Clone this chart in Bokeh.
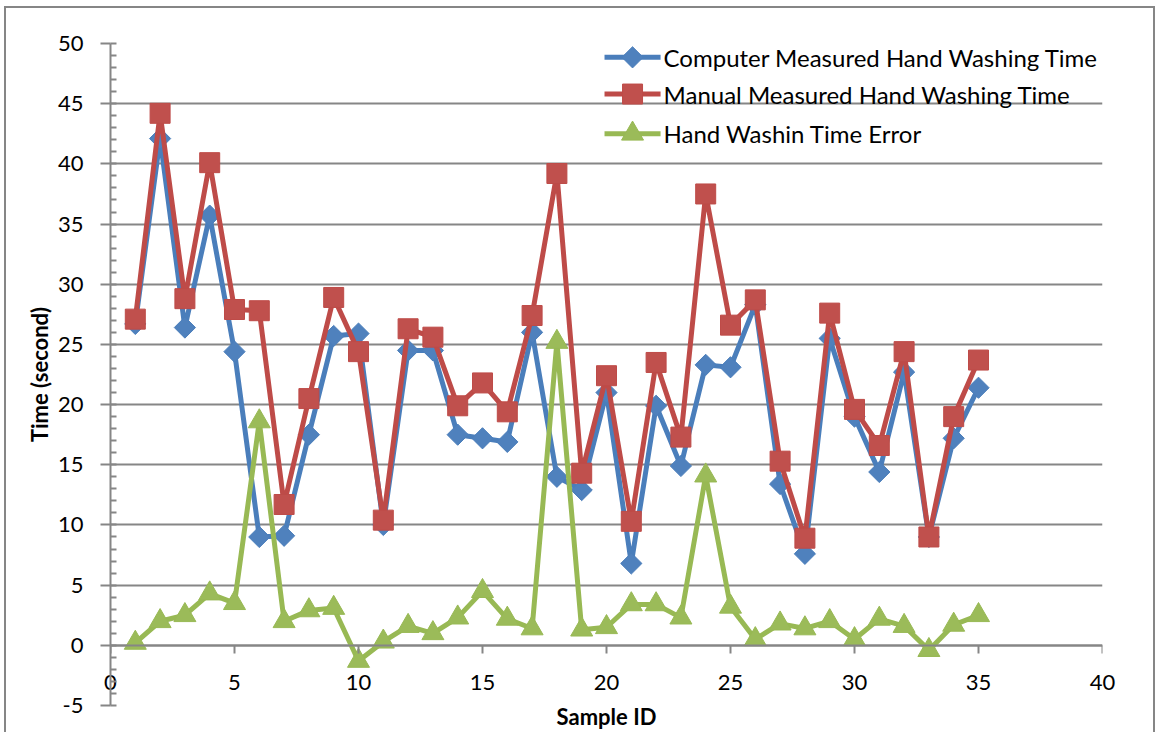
import numpy as np
from bokeh.plotting import figure
from bokeh.layouts import column
from bokeh.models import (Range1d, SingleIntervalTicker, LinearAxis, Label,
                          ColumnDataSource, CustomJSTickFormatter)
from bokeh.embed import file_html
from bokeh.resources import INLINE

# ---- data ----
sample_id = list(range(1, 36))
computer_time = [26.7, 42.1, 26.4, 35.7, 24.4, 9.0, 9.1, 17.5, 25.7, 25.9,
                 10.0, 24.5, 24.5, 17.5, 17.2, 16.9, 26.0, 14.0, 12.9, 21.0,
                 6.8, 19.9, 14.9, 23.3, 23.1, 28.3, 13.4, 7.6, 25.5, 19.0,
                 14.4, 22.7, 9.0, 17.2, 21.4]
manual_time = [27.1, 44.2, 28.8, 40.1, 27.9, 27.8, 11.7, 20.5, 28.9, 24.4,
               10.4, 26.3, 25.6, 19.9, 21.8, 19.4, 27.4, 39.2, 14.3, 22.4,
               10.3, 23.5, 17.3, 37.5, 26.6, 28.7, 15.3, 8.9, 27.6, 19.6,
               16.6, 24.4, 9.0, 19.0, 23.7]
error_time = [0.2, 2.0, 2.5, 4.3, 3.5, 18.6, 2.0, 2.9, 3.1, -1.3,
              0.3, 1.6, 1.0, 2.3, 4.5, 2.2, 1.4, 25.2, 1.3, 1.5,
              3.4, 3.4, 2.3, 14.1, 3.2, 0.5, 1.8, 1.4, 2.0, 0.5,
              2.2, 1.6, -0.4, 1.7, 2.5]
series_names = ["Computer Measured Hand Washing Time",
                "Manual Measured Hand Washing Time",
                "Hand Washin Time Error"]
x_title = "Sample ID"
y_title = "Time (second)"

FONT = "Lato"
GRID = "#868686"
BLUE_L, BLUE_F = "#4A7EBB", "#4F81BD"
RED_L, RED_F = "#BE4B48", "#C0504D"
GREEN_L, GREEN_F = "#98B954", "#9BBB59"

W, H = 1147, 724
p = figure(width=W, height=H, output_backend="svg", toolbar_location=None,
           x_range=Range1d(0, 40), y_range=Range1d(-5, 50),
           x_axis_location=None,
           min_border_left=104, min_border_right=51,
           min_border_top=35, min_border_bottom=27)
p.outline_line_color = None
p.background_fill_color = "white"
p.border_fill_color = "white"

# y axis
yax = p.yaxis[0]
yax.ticker = SingleIntervalTicker(interval=5, num_minor_ticks=5)
yax.formatter = CustomJSTickFormatter(code="return tick.toFixed(0)")
yax.axis_line_color = GRID
yax.axis_line_width = 2
yax.major_tick_line_color = GRID
yax.major_tick_line_width = 2
yax.minor_tick_line_color = GRID
yax.minor_tick_line_width = 2
yax.major_tick_out = 10
yax.major_tick_in = 0
yax.minor_tick_in = 6
yax.minor_tick_out = 0
yax.major_label_text_font = FONT
yax.major_label_text_font_size = "22px"
yax.major_label_text_color = "black"
yax.major_label_standoff = 17
yax.axis_label = y_title
yax.axis_label_text_font = FONT
yax.axis_label_text_font_style = "bold"
yax.axis_label_text_font_size = "22px"
yax.axis_label_text_color = "black"
yax.axis_label_standoff = 2

# x axis line + ticks crossing at y = 0
xax = LinearAxis(fixed_location=0,
                 ticker=SingleIntervalTicker(interval=5, num_minor_ticks=0),
                 formatter=CustomJSTickFormatter(code="return ''"))
xax.axis_line_color = GRID
xax.axis_line_width = 2
xax.major_tick_line_color = GRID
xax.major_tick_line_width = 2
xax.major_tick_out = 8
xax.major_tick_in = 0
xax.minor_tick_line_color = None
p.add_layout(xax, "below")

# x tick labels and title (tick labels sit just above the frame bottom, like the original)
xlab = LinearAxis(ticker=SingleIntervalTicker(interval=5, num_minor_ticks=0))
xlab.axis_line_color = None
xlab.major_tick_line_color = None
xlab.minor_tick_line_color = None
xlab.major_tick_out = 0
xlab.major_tick_in = 0
xlab.major_label_text_font = FONT
xlab.major_label_text_font_size = "22px"
xlab.major_label_text_color = "black"
xlab.major_label_standoff = -31
xlab.axis_label = x_title
xlab.axis_label_text_font = FONT
xlab.axis_label_text_font_style = "bold"
xlab.axis_label_text_font_size = "22px"
xlab.axis_label_text_color = "black"
xlab.axis_label_standoff = 10
p.add_layout(xlab, "below")

p.xgrid.visible = False
p.ygrid.ticker = SingleIntervalTicker(interval=5)
p.ygrid.grid_line_color = GRID
p.ygrid.grid_line_width = 2

src = ColumnDataSource(dict(x=sample_id, c=computer_time, m=manual_time, e=error_time))

LW = 5
p.line("x", "c", source=src, line_color=BLUE_L, line_width=LW)
p.scatter("x", "c", source=src, marker="square", angle=np.pi / 4, size=15,
          fill_color=BLUE_F, line_color=BLUE_L, line_width=1)
p.line("x", "m", source=src, line_color=RED_L, line_width=LW)
p.scatter("x", "m", source=src, marker="square", size=20,
          fill_color=RED_F, line_color=RED_L, line_width=1)
p.line("x", "e", source=src, line_color=GREEN_L, line_width=LW)
p.scatter("x", "e", source=src, marker="triangle", size=22,
          fill_color=GREEN_F, line_color=GREEN_L, line_width=1)

# ---- legend (top right) ----
leg_rows = [48.85, 45.8, 42.5]          # row positions in axis units
leg_x0, leg_x1, leg_txt = 19.92, 22.18, 22.3
leg_styles = [(BLUE_L, BLUE_F, "square", np.pi / 4, 15),
              (RED_L, RED_F, "square", 0.0, 20),
              (GREEN_L, GREEN_F, "triangle", 0.0, 22)]
for name, yy, (lc, fc, mk, ang, sz) in zip(series_names, leg_rows, leg_styles):
    p.line([leg_x0, leg_x1], [yy, yy], line_color=lc, line_width=LW)
    p.scatter([(leg_x0 + leg_x1) / 2], [yy], marker=mk, angle=ang, size=sz,
              fill_color=fc, line_color=lc, line_width=1)
    p.add_layout(Label(x=leg_txt, y=yy, text=name, text_baseline="middle",
                       text_align="left", text_font=FONT,
                       text_font_size="24px", text_color="black"))

# thin grey border around the whole chart (its bottom edge lies below the picture)
layout = column(p, margin=(6, 0, 0, 4),
                styles={"border": "2px solid #868686", "border-bottom": "none"})

open("out.html", "w").write(file_html(layout, INLINE))
